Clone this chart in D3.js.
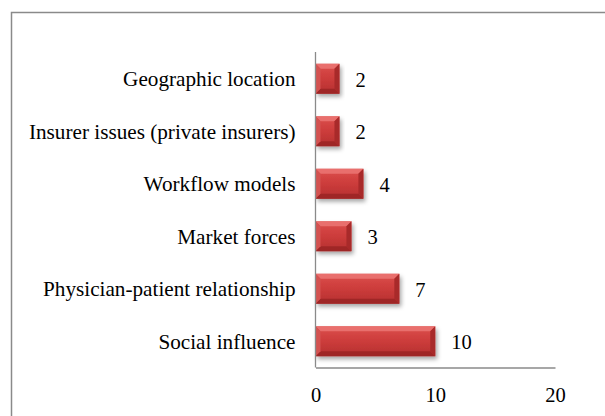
<!DOCTYPE html>
<meta charset="UTF-8">
<script src="https://d3js.org/d3.v7.min.js"></script>
<style>
  html, body { margin: 0; background: #fff; overflow: hidden; }
  svg { display: block; }
  svg text { font-family: "Times New Roman", "Liberation Serif", "DejaVu Serif", serif !important; fill: #000; }
</style>
<svg id="chart" width="605" height="416"></svg>
<script>
// chart values
var categories = ["Geographic location", "Insurer issues (private insurers)", "Workflow models",
                  "Market forces", "Physician-patient relationship", "Social influence"];
var counts = [2, 2, 4, 3, 7, 10];
var tickValues = [0, 10, 20];

var svg = d3.select("#chart");

// outer frame (cut off at right and bottom like the source)
svg.append("path")
  .attr("d", "M11.5,420V12.5H610")
  .attr("fill", "none")
  .attr("stroke", "#8a8a8a")
  .attr("stroke-width", 1.5);

var x = d3.scaleLinear().domain([0, 20]).range([315.5, 555]);
var y = d3.scaleBand().domain(categories).range([52.5, 367.5]).paddingInner(0.43).paddingOuter(0.215);

// drop shadow + gradient for the bevelled bars
var defs = svg.append("defs");
var f = defs.append("filter").attr("id", "shadow")
  .attr("x", "-10%").attr("y", "-20%").attr("width", "130%").attr("height", "160%");
f.append("feDropShadow").attr("dx", 2).attr("dy", 3).attr("stdDeviation", 2)
  .attr("flood-color", "#000").attr("flood-opacity", 0.35);

var grad = defs.append("linearGradient").attr("id", "barGrad")
  .attr("x1", 0).attr("y1", 0).attr("x2", 0).attr("y2", 1);
grad.append("stop").attr("offset", "0%").attr("stop-color", "#dc4e4c");
grad.append("stop").attr("offset", "50%").attr("stop-color", "#cc3c3b");
grad.append("stop").attr("offset", "100%").attr("stop-color", "#b53030");

var bars = svg.append("g").selectAll("g")
  .data(categories)
  .enter().append("g");

var bw = 5; // bevel width

bars.append("rect")
  .attr("x", x(0))
  .attr("y", function(d) { return y(d); })
  .attr("width", function(d, i) { return x(counts[i]) - x(0); })
  .attr("height", y.bandwidth())
  .attr("fill", "url(#barGrad)")
  .attr("filter", "url(#shadow)");

// top bevel
bars.append("path")
  .attr("fill", "#ea7371")
  .attr("opacity", 0.9)
  .attr("d", function(d, i) {
    var x0 = x(0), x1 = x(counts[i]), t = y(d);
    return "M" + x0 + "," + t + "L" + x1 + "," + t + "L" + (x1 - bw) + "," + (t + bw) +
      "L" + (x0 + bw) + "," + (t + bw) + "Z";
  });
// bottom bevel
bars.append("path")
  .attr("fill", "#9a2424")
  .attr("opacity", 0.85)
  .attr("d", function(d, i) {
    var x0 = x(0), x1 = x(counts[i]), b = y(d) + y.bandwidth();
    return "M" + x0 + "," + b + "L" + x1 + "," + b + "L" + (x1 - bw) + "," + (b - bw) +
      "L" + (x0 + bw) + "," + (b - bw) + "Z";
  });
// right bevel
bars.append("path")
  .attr("fill", "#a82a2a")
  .attr("d", function(d, i) {
    var x1 = x(counts[i]), t = y(d), b = t + y.bandwidth();
    return "M" + x1 + "," + t + "L" + x1 + "," + b + "L" + (x1 - bw) + "," + (b - bw) +
      "L" + (x1 - bw) + "," + (t + bw) + "Z";
  });
// left bevel
bars.append("path")
  .attr("fill", "#d45250")
  .attr("d", function(d, i) {
    var x0 = x(0), t = y(d), b = t + y.bandwidth();
    return "M" + x0 + "," + t + "L" + x0 + "," + b + "L" + (x0 + bw) + "," + (b - bw) +
      "L" + (x0 + bw) + "," + (t + bw) + "Z";
  });

// value labels
bars.append("text")
  .attr("x", function(d, i) { return x(counts[i]) + 16; })
  .attr("y", function(d) { return y(d) + y.bandwidth() / 2 + 1; })
  .attr("dy", "0.35em")
  .style("font-size", "20.5px")
  .text(function(d, i) { return counts[i]; });

// y axis
var yAxis = svg.append("g")
  .attr("transform", "translate(" + x(0) + ",0)")
  .call(d3.axisLeft(y).tickSize(0).tickPadding(20));
yAxis.attr("font-family", null);
yAxis.select(".domain").attr("stroke", "#8a8a8a").attr("stroke-width", 1.3)
  .attr("d", "M0,52V367.5");
yAxis.selectAll("text").style("font-size", "21.2px").attr("dy", "0.36em");

// x axis
var xAxis = svg.append("g")
  .attr("transform", "translate(0,367.5)")
  .call(d3.axisBottom(x).tickValues(tickValues).tickSize(0).tickPadding(20).tickFormat(d3.format("d")));
xAxis.attr("font-family", null);
xAxis.select(".domain").attr("stroke", "#8a8a8a").attr("stroke-width", 1.3);
xAxis.selectAll("text").style("font-size", "20.5px");
</script>
